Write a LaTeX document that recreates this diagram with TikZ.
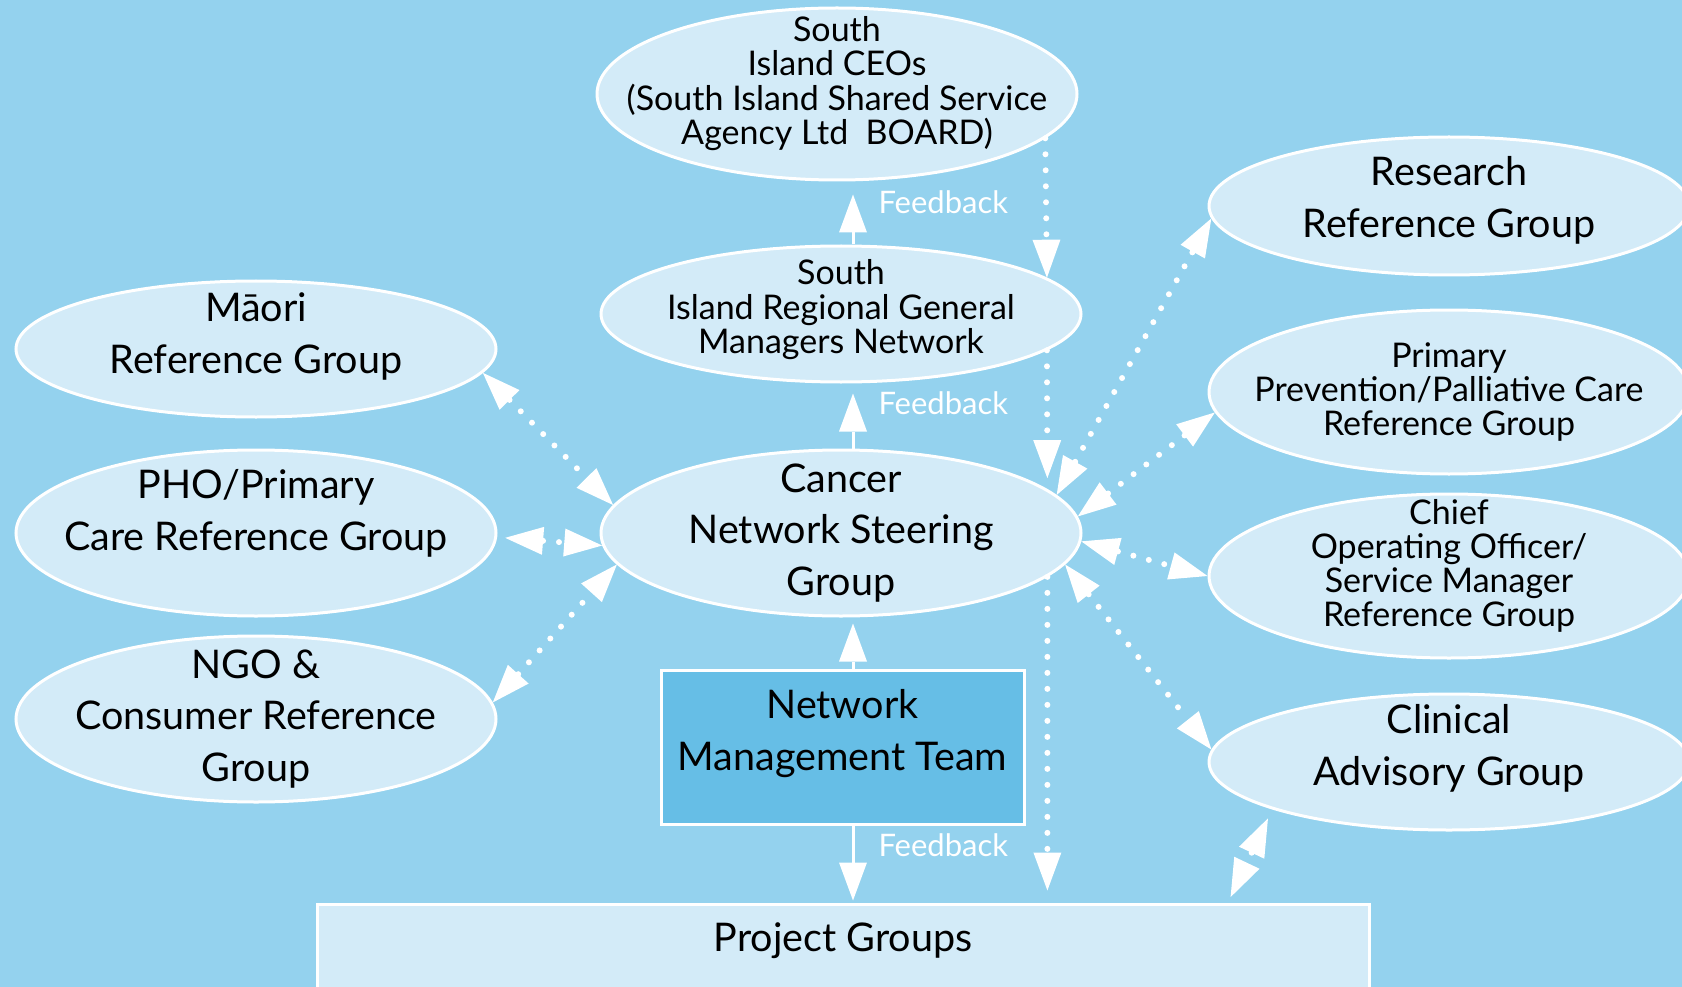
\documentclass[tikz,border=0pt]{standalone}
\usepackage{fontspec}
\setmainfont{Lato}
\usetikzlibrary{positioning,shapes,arrows.meta}
\definecolor{skyback}{HTML}{94D2EE}
\definecolor{paleblue}{HTML}{D3EBF8}
\definecolor{teamblue}{HTML}{66BEE6}
\newcommand{\bigtxt}{\fontsize{39.5}{51.5}\selectfont}
\newcommand{\smalltxt}{\fontsize{34}{34.3}\selectfont}
\newcommand{\fbtxt}{\fontsize{31}{34}\selectfont}

\begin{document}
\begin{tikzpicture}[x=1pt,y=-1pt,line width=3pt,
		>={Triangle[length=38pt,width=28pt,line width=0pt]},
		grp/.style={shape=ellipse,draw=white,fill=paleblue,inner xsep=-80pt,inner ysep=-60pt,align=center,minimum width=480pt,font=\bigtxt},
		box/.style={draw=white,fill=paleblue,inner sep=0pt,align=center,font=\bigtxt},
		link/.style={white,->,shorten >=10pt},
		dotlink/.style={white,line width=6pt,line cap=round,dash pattern=on 0pt off 16pt},
		fb/.style={text=white,font=\fbtxt,anchor=west,inner sep=0pt,xshift=24pt}]

		% the sky behind everything
		\useasboundingbox (0,0) rectangle (1682,987);
		\fill[skyback] (0,0) rectangle (1682,987);

		% the governance chain
		\node[grp,font=\smalltxt,minimum height=172pt,text depth=27pt] (cceo) at (837,94) {South\\Island CEOs\\(South Island Shared Service\\Agency Ltd\ \ BOARD)};
		\node[grp,font=\smalltxt,minimum height=136pt,text depth=15pt] (cgm) at (841,314) {South\\Island Regional General\\Managers Network};
		\node[grp,minimum height=166pt] (csteer) at (841,533) {Cancer\\Network Steering\\Group};
		\node[box,fill=teamblue,minimum width=363pt,minimum height=154pt,text depth=34pt] (cnmt) at (842.5,747) {Network\\Management Team};
		\node[box,minimum width=1052pt,minimum height=90pt,text depth=24pt] (cproj) at (843,949) {Project Groups};

		% reference groups on the left
		\node[grp,minimum height=136pt,text depth=32pt] (cmaori) at (256,349) {Māori\\Reference Group};
		\node[grp,minimum height=166pt,text depth=46pt] (cpho) at (256,533) {PHO/Primary\\Care Reference Group};
		\node[grp,minimum height=166pt] (cngo) at (256,719) {NGO \&\\Consumer Reference\\Group};

		% reference and advisory groups on the right
		\node[grp,minimum height=138pt,text depth=18pt] (cres) at (1449,206) {Research\\Reference Group};
		\node[grp,font=\smalltxt,minimum height=164pt] (cprev) at (1449,392) {Primary\\Prevention/Palliative Care\\Reference Group};
		\node[grp,font=\smalltxt,minimum height=164pt,text depth=26pt] (ccoo) at (1449,576) {Chief\\Operating Officer/\\Service Manager\\Reference Group};
		\node[grp,minimum height=136pt,text depth=34pt] (cclin) at (1449,762) {Clinical\\Advisory Group};

		% reporting lines with feedback
		\coordinate (spine) at (853,0);
		\draw[link,shorten >=13pt] (cgm.north -| spine) -- (cceo.south -| spine) node[fb,pos=0.67] {Feedback};
		\draw[link] (csteer.north -| spine) -- (cgm.south -| spine) node[fb,pos=0.7] {Feedback};
		\draw[link,shorten >=6pt] (cnmt.north -| spine) -- (csteer.south -| spine);
		\draw[link,shorten >=2pt] (cnmt.south -| spine) -- (cproj.north -| spine) node[fb,pos=0.25] {Feedback};

		% directions passed down the chain
		\coordinate (sb) at (csteer.-12.1);
		\draw[dotlink,->] (cceo.-12.4) -- (cgm.10.6);
		\draw[dotlink,->,shorten >=11pt] (cgm.-10) -- (csteer.12.1);
		\draw[dotlink,->,shorten >=12pt] (csteer.-12.1) -- (cproj.north -| sb);

		% two way links with the groups
		\draw[dotlink,<->] (cmaori.-6) -- (csteer.173);
		\draw[dotlink,<->,shorten <=8pt] (cpho.-1) -- (csteer.183);
		\draw[dotlink,<->] (cngo.4) -- (csteer.188);
		\draw[dotlink,<->] (csteer.10) -- (cres.183);
		\draw[dotlink,<->] (csteer.4) -- (cprev.185);
		\draw[dotlink,<->] (csteer.-2) -- (ccoo.180);
		\draw[dotlink,<->] (csteer.-8) -- (cclin.177);
		\draw[dotlink,<->,shorten <=10pt,shorten >=6pt] (cclin.195) -- ([xshift=385pt]cproj.north);

	\end{tikzpicture}
\end{document}
